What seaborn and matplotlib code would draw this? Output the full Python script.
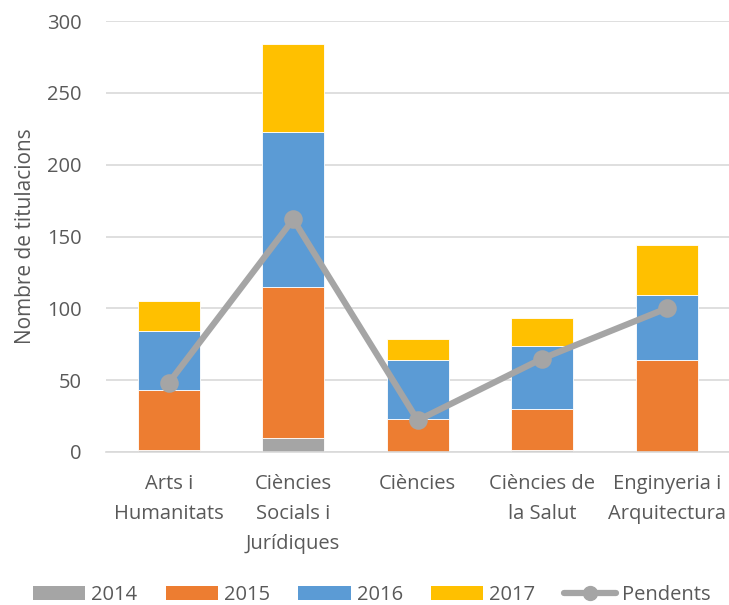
import numpy as np
import pandas as pd
import matplotlib
matplotlib.use("Agg")
import matplotlib.pyplot as plt
import seaborn as sns
from matplotlib.lines import Line2D
from matplotlib.patches import Patch

categories = ["Arts i\nHumanitats", "Ciències\nSocials i\nJurídiques", "Ciències",
              "Ciències de\nla Salut", "Enginyeria i\nArquitectura"]
y2014 = [1, 10, 0, 1, 0]
y2015 = [42, 105, 23, 29, 64]
y2016 = [41, 108, 41, 44, 45]
y2017 = [21, 61, 15, 19, 35]
pendents = [48, 162, 22, 65, 100]

series = [("2014", y2014, "#a5a5a5"), ("2015", y2015, "#ed7d31"),
          ("2016", y2016, "#5b9bd5"), ("2017", y2017, "#ffc000")]

sns.set_theme(style="white")
plt.rcParams['font.family'] = ['Open Sans', 'DejaVu Sans']
txt = "#595959"

fig = plt.figure(figsize=(7.29, 6.05), dpi=100)
ax = fig.add_axes([0.146, 0.253, 0.854, 0.712])

bottom = np.zeros(len(categories))
for name, vals, col in series:
    sns.barplot(x=categories, y=vals, color=col, bottom=bottom, width=0.5, saturation=1,
                edgecolor="white", linewidth=0.6, ax=ax, zorder=2)
    bottom = bottom + np.array(vals)

sns.pointplot(x=categories, y=pendents, color="#a5a5a5", markers="o",
              markersize=10, linewidth=4.5, ax=ax, zorder=3)

ax.set_ylim(0, 300)
ax.set_xlim(-0.5, 4.5)
ax.set_yticks(range(0, 301, 50))
ax.yaxis.grid(True, color="#d9d9d9", linewidth=1.2, zorder=0)
ax.set_axisbelow(True)
for s in ["top", "right", "left"]:
    ax.spines[s].set_visible(False)
ax.spines["bottom"].set_color("#d9d9d9")
ax.spines["bottom"].set_linewidth(1.2)
ax.tick_params(axis="both", length=0, labelsize=14.5, colors=txt)
ax.tick_params(axis="x", pad=16)
ax.tick_params(axis="y", pad=18)
for lab in ax.get_xticklabels():
    lab.set_linespacing(1.65)
ax.set_ylabel("Nombre de titulacions", fontsize=15, color=txt, labelpad=8)
ax.set_xlabel("")

handles = [Patch(facecolor=c, edgecolor="none") for _, _, c in series]
handles.append(Line2D([0], [0], color="#a5a5a5", lw=4.5, marker="o", markersize=10))
labels = [n for n, _, _ in series] + ["Pendents"]
fig.legend(handles, labels, loc="lower center", bbox_to_anchor=(0.51, -0.03), ncol=5,
           frameon=False, fontsize=14.5, labelcolor=txt, handlelength=2.6,
           handleheight=0.7, columnspacing=1.4, handletextpad=0.3)

fig.savefig("out.png", dpi=100)
